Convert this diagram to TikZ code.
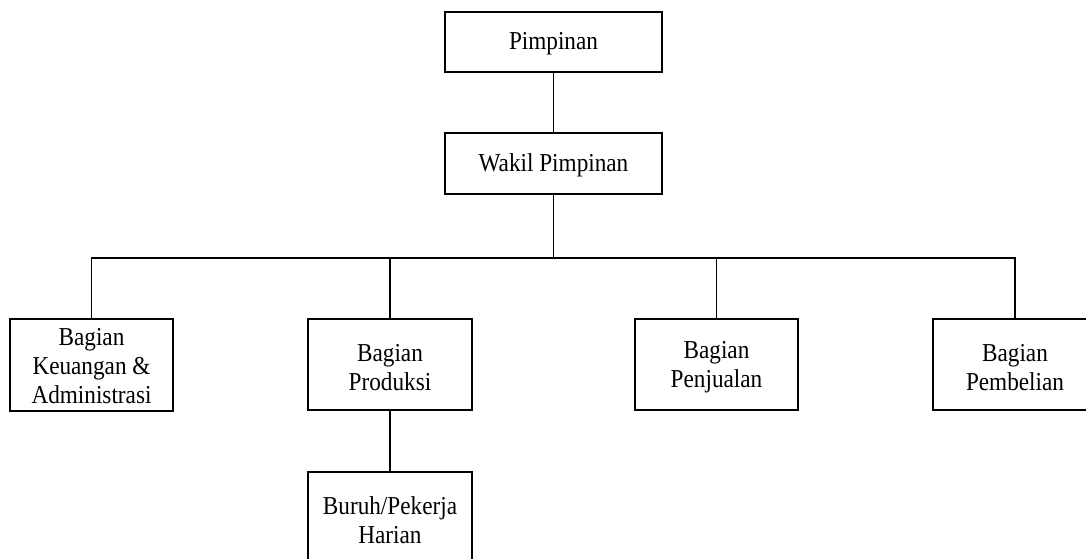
\documentclass[tikz,border=0pt]{standalone}
\usepackage{fontspec}
\setmainfont{Liberation Serif}[FakeStretch=0.9]
\begin{document}
\begin{tikzpicture}[x=1pt,y=-1pt,
  box/.style={draw,line width=1.1pt,inner sep=0pt,minimum height=#1},
  box/.default=60,
  txt/.style={inner sep=0pt,align=center,font=\fontsize{25.8}{29}\selectfont},
  conn/.style={line width=1.1pt}]
\useasboundingbox (0,0) rectangle (1086,558);
\clip (0,0) rectangle (1086,558);
\node[box=60,minimum width=217] (pim) at (553.5,42) {};
\node[box=61,minimum width=217] (wak) at (553.5,163.5) {};
\node[box=92,minimum width=163] (keu) at (91.5,365) {};
\node[box=91,minimum width=164] (pro) at (390,364.5) {};
\node[box=91,minimum width=163] (pen) at (716.5,364.5) {};
\node[box=91,minimum width=164] (pem) at (1015,364.5) {};
\node[box=91,minimum width=164] (bur) at (390,517.5) {};
\node[txt] (pimt) at ([yshift=-2pt]pim.center) {Pimpinan};
\node[txt] (wakt) at ([yshift=-2pt]wak.center) {Wakil Pimpinan};
\node[txt] (keut) at ([yshift=-1pt]keu.center) {Bagian\\Keuangan \&\\Administrasi};
\node[txt] (prot) at ([yshift=-3pt]pro.center) {Bagian\\Produksi};
\node[txt] (pent) at ([yshift=-3pt]pen.center) {Bagian\\Penjualan};
\node[txt] (pemt) at ([yshift=-3pt]pem.center) {Bagian\\Pembelian};
\node[txt] (burt) at ([yshift=-3pt]bur.center) {Buruh/Pekerja\\Harian};
\coordinate (bus) at (553.5,258);
\draw[conn] (pim.south) -- (wak.north);
\draw[conn] (wak.south) -- (bus);
\draw[conn] (keu.north) |- (bus) -| (pem.north);
\draw[conn] (pro.north) -- (pro.north |- bus);
\draw[conn] (pen.north) -- (pen.north |- bus);
\draw[conn] (pro.south) -- (bur.north);
\end{tikzpicture}
\end{document}
